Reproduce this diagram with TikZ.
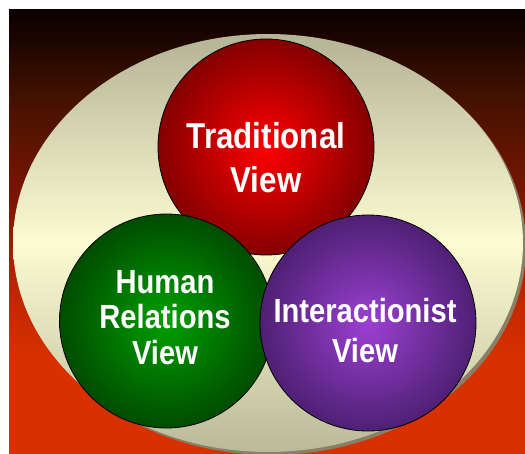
\documentclass[tikz,border=0pt]{standalone}
\usepackage{fontspec}
\newfontfamily\lblfont[FakeStretch=0.87]{Liberation Sans}
\pgfdeclareverticalshading{bgshade}{100bp}{%
  rgb(0bp)=(0.847,0.188,0);
  rgb(35.5bp)=(0.847,0.188,0);
  rgb(42.2bp)=(0.761,0.157,0);
  rgb(53.5bp)=(0.486,0.086,0);
  rgb(64.8bp)=(0.271,0.071,0);
  rgb(71.5bp)=(0.11,0.02,0);
  rgb(75bp)=(0.04,0,0);
  rgb(100bp)=(0.04,0,0)}
\definecolor{khakitop}{HTML}{B4B496}
\definecolor{khakibot}{HTML}{BABA9A}
\definecolor{creammid}{HTML}{FCFCD2}
\definecolor{ellshadow}{HTML}{8A7E66}
\definecolor{redin}{HTML}{FF0000}
\definecolor{redout}{HTML}{840000}
\definecolor{greenin}{HTML}{00A000}
\definecolor{greenout}{HTML}{004C00}
\definecolor{purpin}{HTML}{9C40D2}
\definecolor{purpout}{HTML}{4E2074}
\tikzset{
  viewcircle/.style={circle, draw=black, line width=0.8pt, inner sep=0pt, minimum size=#1, shade},
  lbl/.style={anchor=base, text=white, inner sep=0pt, font=\lblfont\bfseries\fontsize{#1}{#1}\selectfont},
}
\begin{document}
\begin{tikzpicture}[x=1pt, y=-1pt]
\useasboundingbox (0,0) rectangle (525,453);
\fill[white] (0,0) rectangle (525,453);
\shade[shading=bgshade] (9,9) rectangle (525,453);
% large ellipse with shadow
\fill[ellshadow] (271,246) ellipse [x radius=255, y radius=209];
\shade[top color=khakitop, bottom color=khakibot, middle color=creammid] (268,243) ellipse [x radius=255, y radius=209];
% circles
\node[viewcircle=216pt, inner color=redin, outer color=redout] (trad) at (266,147) {};
\node[viewcircle=214pt, inner color=greenin, outer color=greenout] (human) at (166.5,321) {};
\node[viewcircle=216pt, inner color=purpin, outer color=purpout] (inter) at (368,323) {};
% labels
\node[lbl=36] (t1) at (266,148) {Traditional};
\node[lbl=36] (t2) at (266,192) {View};
\node[lbl=33.5] (h1) at (165,293) {Human};
\node[lbl=33.5] (h2) at (165,328) {Relations};
\node[lbl=33.5] (h3) at (165,364) {View};
\node[lbl=33.5] (i1) at (365,322) {Interactionist};
\node[lbl=33.5] (i2) at (365,362) {View};
\end{tikzpicture}
\end{document}
